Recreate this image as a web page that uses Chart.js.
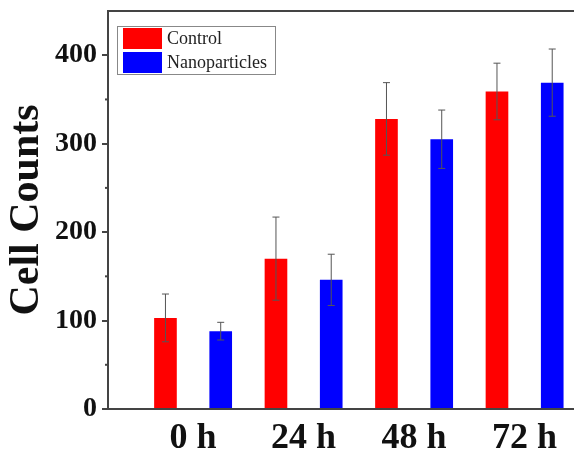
<!DOCTYPE html>
<html lang="en">
<head>
  <meta charset="UTF-8">
  <title>Cell Counts</title>
  <script src="https://cdn.jsdelivr.net/npm/chart.js"></script>
  <style>
    body { margin: 0; background: #fff; }
    #wrap { width: 574px; height: 461px; }
  </style>
</head>
<body>
  <div id="wrap">
    <canvas id="grafica" width="574" height="461"></canvas>
  </div>

  <script>
    // datos
    const categorias = ['0 h', '24 h', '48 h', '72 h'];
    const control = [103, 170, 328, 359];
    const controlError = [27, 47, 41, 32];
    const nano = [88, 146, 305, 369];
    const nanoError = [10, 29, 33, 38];

    const serif = '"Liberation Serif", "Times New Roman", serif';

    // barras de error, leyenda, marcas menores y borde superior
    const extras = {
      id: 'extras',
      afterDatasetsDraw(chart) {
        const ctx = chart.ctx;
        const y = chart.scales.y;
        const area = chart.chartArea;

        ctx.save();
        ctx.strokeStyle = '#555';
        ctx.lineWidth = 1;
        chart.data.datasets.forEach((ds, i) => {
          const meta = chart.getDatasetMeta(i);
          meta.data.forEach((bar, j) => {
            const v = ds.data[j].y;
            const e = ds.errores[j];
            const yTop = y.getPixelForValue(v + e);
            const yBot = y.getPixelForValue(v - e);
            ctx.beginPath();
            ctx.moveTo(bar.x, yTop);
            ctx.lineTo(bar.x, yBot);
            ctx.moveTo(bar.x - 3.5, yTop);
            ctx.lineTo(bar.x + 3.5, yTop);
            ctx.moveTo(bar.x - 3.5, yBot);
            ctx.lineTo(bar.x + 3.5, yBot);
            ctx.stroke();
          });
        });

        // marcas menores del eje y
        ctx.strokeStyle = '#444';
        ctx.lineWidth = 2;
        for (let v = 50; v < y.max; v += 100) {
          const py = y.getPixelForValue(v);
          ctx.beginPath();
          ctx.moveTo(area.left - 3, py);
          ctx.lineTo(area.left, py);
          ctx.stroke();
        }

        // borde superior
        ctx.beginPath();
        ctx.moveTo(area.left - 1, area.top);
        ctx.lineTo(area.right, area.top);
        ctx.stroke();

        // leyenda
        const lx = area.left + 9;
        const ly = area.top + 15;
        ctx.fillStyle = '#fff';
        ctx.fillRect(lx, ly, 158, 48);
        ctx.strokeStyle = '#888';
        ctx.lineWidth = 1;
        ctx.strokeRect(lx + 0.5, ly + 0.5, 158, 48);
        ctx.font = '18px ' + serif;
        ctx.textBaseline = 'middle';
        chart.data.datasets.forEach((ds, i) => {
          const sy = ly + 2 + i * 24;
          ctx.fillStyle = ds.backgroundColor;
          ctx.fillRect(lx + 6, sy, 39, 21);
          ctx.fillStyle = '#222';
          ctx.fillText(ds.label, lx + 50, sy + 11);
        });
        ctx.restore();
      }
    };

    const ctx = document.getElementById('grafica').getContext('2d');
    new Chart(ctx, {
      type: 'bar',
      data: {
        datasets: [
          {
            label: 'Control',
            data: control.map((v, i) => ({ x: i, y: v })),
            errores: controlError,
            backgroundColor: '#ff0000'
          },
          {
            label: 'Nanoparticles',
            data: nano.map((v, i) => ({ x: i, y: v })),
            errores: nanoError,
            backgroundColor: '#0000ff'
          }
        ]
      },
      options: {
        responsive: false,
        animation: false,
        categoryPercentage: 1,
        barPercentage: 0.41,
        layout: { padding: { top: 11, left: 0, right: 0, bottom: 0 } },
        plugins: {
          legend: { display: false },
          tooltip: { enabled: false }
        },
        scales: {
          x: {
            type: 'linear',
            offset: false,
            min: -0.77,
            max: 3.447,
            grid: { display: false, drawTicks: false },
            border: { color: '#444', width: 2 },
            ticks: {
              stepSize: 1,
              includeBounds: false,
              padding: 8,
              color: '#111',
              font: { family: serif, size: 36, weight: 'bold' },
              callback: v => categorias[v] ?? ''
            },
            afterFit: s => { s.height = 52; s.paddingLeft = 0; s.paddingRight = 0; }
          },
          y: {
            min: 0,
            max: 450,
            grid: { drawOnChartArea: false, color: '#444', lineWidth: 2, tickLength: 6 },
            border: { color: '#444', width: 2 },
            ticks: {
              stepSize: 100,
              includeBounds: false,
              padding: 5,
              color: '#111',
              font: { family: serif, size: 28, weight: 'bold' }
            },
            title: {
              display: true,
              text: 'Cell Counts',
              color: '#111',
              padding: { top: 2, bottom: 0 },
              font: { family: serif, size: 42, weight: 'bold' }
            },
            afterFit: s => { s.width = 108; s.paddingTop = 0; s.paddingBottom = 0; }
          }
        }
      },
      plugins: [extras]
    });
  </script>
</body>
</html>
